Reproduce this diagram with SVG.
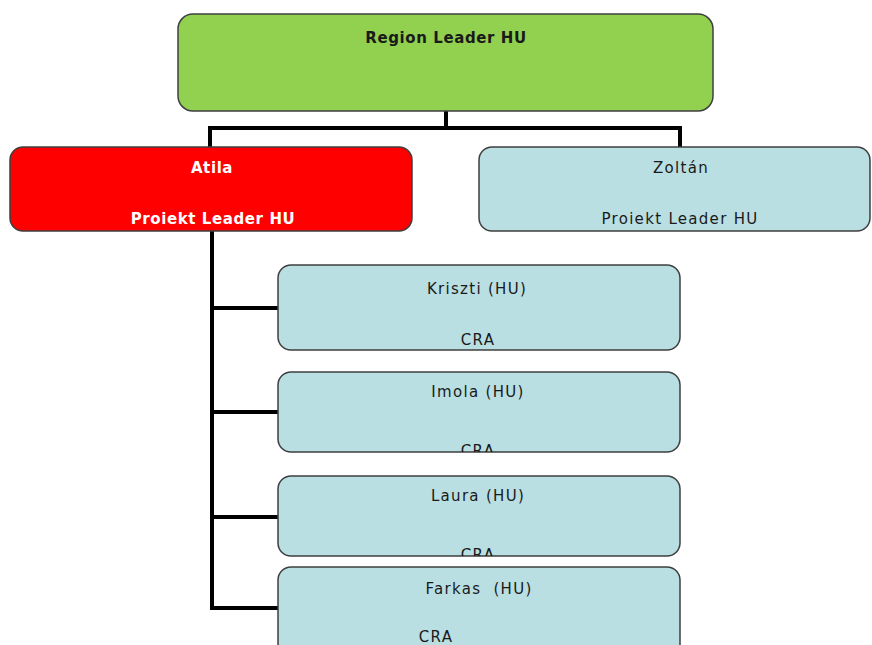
<svg xmlns="http://www.w3.org/2000/svg" width="872" height="645" viewBox="0 0 872 645">
<style>
.box{stroke:#3f3f3f;stroke-width:1.5}
.blue{fill:#b9dfe2}
.t{font-family:"DejaVu Sans","Verdana",sans-serif;font-size:15px;letter-spacing:1.3px;text-anchor:middle;fill:#1a1a1a}
.b{font-weight:bold;letter-spacing:0.6px}
.w{fill:#ffffff}
.conn{fill:none;stroke:#000;stroke-width:4}
</style>
<defs>
<clipPath id="cImola"><rect x="278" y="372" width="402" height="80" rx="13"/></clipPath>
<clipPath id="cLaura"><rect x="278" y="476" width="402" height="80" rx="13"/></clipPath>
</defs>
<rect width="872" height="645" fill="#fff"/>
<g id="connectors">
<path class="conn" d="M446 111 V128 M210 128 H680 M210 126 V148 M680 126 V148"/>
<path class="conn" d="M212 231 V610 M210 308 H279 M210 412 H279 M210 517 H279 M210 608 H279"/>
</g>
<g id="region">
<rect class="box" x="178" y="14" width="535" height="97" rx="15" fill="#92d050"/>
<text class="t b" x="446" y="43">Region Leader HU</text>
</g>
<g id="atila">
<rect class="box" x="10" y="147" width="402" height="84" rx="13" fill="#ff0000"/>
<text class="t b w" x="212" y="173">Atila</text>
<text class="t b w" x="213" y="224">Proiekt Leader HU</text>
</g>
<g id="zoltan">
<rect class="box blue" x="479" y="147" width="391" height="84" rx="13"/>
<text class="t" x="681" y="173">Zoltán</text>
<text class="t" x="680" y="224">Proiekt Leader HU</text>
</g>
<g id="kriszti">
<rect class="box blue" x="278" y="265" width="402" height="85" rx="13"/>
<text class="t" x="477" y="294">Kriszti (HU)</text>
<text class="t" x="478" y="345">CRA</text>
</g>
<g id="imola">
<rect class="box blue" x="278" y="372" width="402" height="80" rx="13"/>
<text class="t" x="478" y="397">Imola (HU)</text>
<text class="t" x="478" y="456" clip-path="url(#cImola)">CRA</text>
</g>
<g id="laura">
<rect class="box blue" x="278" y="476" width="402" height="80" rx="13"/>
<text class="t" x="478" y="501">Laura (HU)</text>
<text class="t" x="478" y="560" clip-path="url(#cLaura)">CRA</text>
</g>
<g id="farkas">
<rect class="box blue" x="278" y="567" width="402" height="100" rx="13"/>
<text class="t" x="479" y="594">Farkas&#160; (HU)</text>
<text class="t" x="436" y="642">CRA</text>
</g>
</svg>
